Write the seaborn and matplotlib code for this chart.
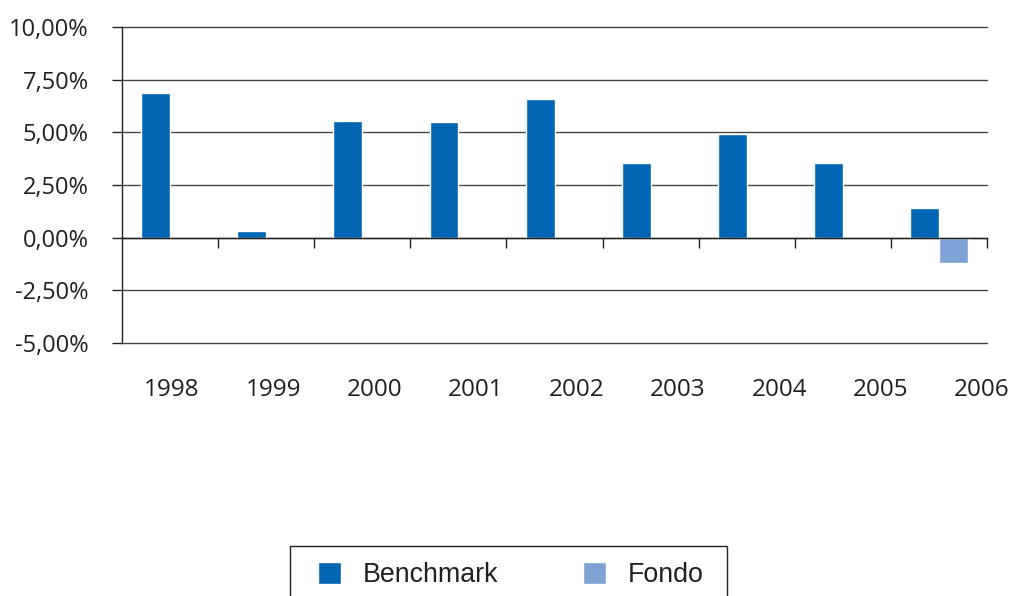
import numpy as np
import pandas as pd
import matplotlib
matplotlib.use("Agg")
import matplotlib.pyplot as plt
from matplotlib.patches import Rectangle
from matplotlib.ticker import FuncFormatter
import seaborn as sns

# data (percent)
years = ["1998", "1999", "2000", "2001", "2002", "2003", "2004", "2005", "2006"]
benchmark = [6.88, 0.30, 5.55, 5.50, 6.59, 3.55, 4.93, 3.55, 1.42]
fondo = [np.nan, np.nan, np.nan, np.nan, np.nan, np.nan, np.nan, np.nan, -1.20]
series_names = ["Benchmark", "Fondo"]
colors = ["#0066b3", "#7fa2d5"]

df = pd.DataFrame({
    "year": years * 2,
    "value": benchmark + fondo,
    "series": [series_names[0]] * len(years) + [series_names[1]] * len(years),
})

sns.set_style("white")
plt.rcParams["font.family"] = ["Open Sans", "DejaVu Sans"]

W, H = 1011, 596
fig = plt.figure(figsize=(W / 100, H / 100), dpi=100)
ax = fig.add_axes([122 / W, 1 - 343 / H, 865 / W, 316 / H])

sns.barplot(data=df, x="year", y="value", hue="series", order=years,
            hue_order=series_names, palette=colors, width=0.6,
            saturation=1, errorbar=None, ax=ax)
handles, labels = ax.get_legend_handles_labels()
ax.get_legend().remove()

ax.set_xlim(-0.5, len(years) - 0.5)
ax.set_ylim(-5, 10)
ax.set_yticks(np.arange(-5, 10.01, 2.5))
ax.yaxis.set_major_formatter(FuncFormatter(lambda v, p: f"{v:.2f}%".replace(".", ",")))
ax.grid(axis="y", color="#444444", lw=1)
ax.grid(axis="x", visible=False)
ax.set_axisbelow(True)
ax.set_xlabel("")
ax.set_ylabel("")

for s in ["top", "right"]:
    ax.spines[s].set_visible(False)
ax.spines["left"].set_color("#222222")
ax.spines["left"].set_linewidth(1)
# x axis line sits on zero, ticks at category boundaries
ax.spines["bottom"].set_position(("data", 0))
ax.spines["bottom"].set_color("#222222")
ax.spines["bottom"].set_linewidth(1)
ax.set_xticks(np.arange(0.5, len(years), 1.0))
ax.tick_params(axis="x", which="major", length=7, width=1, color="#222222",
               direction="out", bottom=True, labelbottom=False)
ax.tick_params(axis="y", length=7, width=1, color="#222222", pad=17,
               labelsize=17, labelcolor="#231f20", left=True)
for gl in ax.yaxis.get_gridlines():
    gl.set_clip_on(False)

# year labels below the plot area
sec = ax.secondary_xaxis(0)
sec.spines["bottom"].set_visible(False)
sec.set_xticks(np.arange(len(years)) * 1.053 + 0.02)
sec.set_xticklabels(years)
sec.tick_params(length=0, pad=25, labelsize=17.5, labelcolor="#231f20")

# legend: entries without frame, box drawn separately (runs off the bottom)
leg = fig.legend(handles, labels, loc="upper left",
                 bbox_to_anchor=(318 / W, 1 - 562 / H), ncol=2,
                 frameon=False, prop={"family": "Liberation Sans", "size": 19.3},
                 handlelength=0.86, handleheight=0.86, handletextpad=0.82,
                 columnspacing=3.15, borderpad=0, borderaxespad=0)
for t in leg.get_texts():
    t.set_color("#231f20")
fig.patches.append(Rectangle((290 / W, -0.05), 437 / W, 0.05 + 1 - 546 / H,
                             transform=fig.transFigure, fill=False,
                             edgecolor="#222222", lw=1))

fig.savefig("out.png", dpi=100)
